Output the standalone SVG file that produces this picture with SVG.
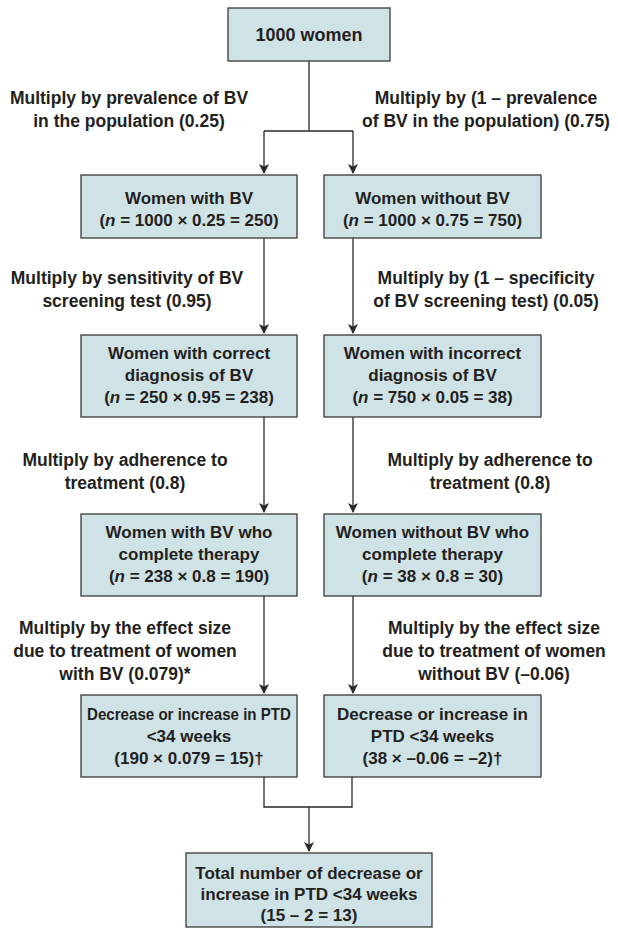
<svg xmlns="http://www.w3.org/2000/svg" width="618" height="928" viewBox="0 0 618 928">
<style>
.box{fill:#cfe2e5;stroke:#3a3a3a;stroke-width:1.3}
.t{font-family:"Liberation Sans",Arial,sans-serif;font-weight:bold;font-size:17px;fill:#231f20;text-anchor:middle}
.lbl{font-family:"Liberation Sans",Arial,sans-serif;font-weight:bold;font-size:17.5px;fill:#231f20;text-anchor:middle}
.ln{fill:none;stroke:#2a2a2a;stroke-width:1.3}
</style>
<defs>
<marker id="arr" markerWidth="10" markerHeight="12" refX="9" refY="5" orient="auto" markerUnits="userSpaceOnUse">
<path d="M0,0 L10,5 L0,10 L2.5,5 z" fill="#2a2a2a"/>
</marker>
</defs>
<rect width="618" height="928" fill="#ffffff"/>

<g id="connectors">
<path class="ln" d="M309,61 V131 M264,131 H353"/>
<path class="ln" d="M264,131 V173" marker-end="url(#arr)"/>
<path class="ln" d="M353,131 V173" marker-end="url(#arr)"/>
<path class="ln" d="M264,238 V333" marker-end="url(#arr)"/>
<path class="ln" d="M353,238 V333" marker-end="url(#arr)"/>
<path class="ln" d="M264,417 V512" marker-end="url(#arr)"/>
<path class="ln" d="M353,417 V512" marker-end="url(#arr)"/>
<path class="ln" d="M264,596 V693" marker-end="url(#arr)"/>
<path class="ln" d="M353,596 V693" marker-end="url(#arr)"/>
<path class="ln" d="M264,777 V807 H352 V777"/>
<path class="ln" d="M309,807 V851" marker-end="url(#arr)"/>
</g>

<g id="labels">
<text class="lbl" x="129" y="104">Multiply by prevalence of BV</text>
<text class="lbl" x="129" y="127">in the population (0.25)</text>
<text class="lbl" x="486" y="104">Multiply by (1 – prevalence</text>
<text class="lbl" x="486" y="127">of BV in the population) (0.75)</text>

<text class="lbl" x="127" y="284">Multiply by sensitivity of BV</text>
<text class="lbl" x="127" y="307">screening test (0.95)</text>
<text class="lbl" x="486" y="284">Multiply by (1 – specificity</text>
<text class="lbl" x="486" y="307">of BV screening test) (0.05)</text>

<text class="lbl" x="125" y="466">Multiply by adherence to</text>
<text class="lbl" x="125" y="489">treatment (0.8)</text>
<text class="lbl" x="490" y="466">Multiply by adherence to</text>
<text class="lbl" x="490" y="489">treatment (0.8)</text>

<text class="lbl" x="125" y="634">Multiply by the effect size</text>
<text class="lbl" x="125" y="657">due to treatment of women</text>
<text class="lbl" x="125" y="680">with BV (0.079)*</text>
<text class="lbl" x="494" y="634">Multiply by the effect size</text>
<text class="lbl" x="494" y="657">due to treatment of women</text>
<text class="lbl" x="494" y="680">without BV (–0.06)</text>
</g>

<g id="n-top">
<rect class="box" x="228" y="8" width="162" height="53"/>
<text class="t" x="309" y="41" style="font-size:18px">1000 women</text>
</g>

<g id="n-withbv">
<rect class="box" x="81" y="175" width="216" height="63"/>
<text class="t" x="189" y="204">Women with BV</text>
<text class="t" x="189" y="226">(<tspan font-style="italic">n</tspan> = 1000 × 0.25 = 250)</text>
</g>
<g id="n-withoutbv">
<rect class="box" x="324" y="175" width="217" height="63"/>
<text class="t" x="432.5" y="204">Women without BV</text>
<text class="t" x="432.5" y="226">(<tspan font-style="italic">n</tspan> = 1000 × 0.75 = 750)</text>
</g>

<g id="n-correct">
<rect class="box" x="81" y="335" width="216" height="82"/>
<text class="t" x="189" y="359">Women with correct</text>
<text class="t" x="189" y="381">diagnosis of BV</text>
<text class="t" x="189" y="403">(<tspan font-style="italic">n</tspan> = 250 × 0.95 = 238)</text>
</g>
<g id="n-incorrect">
<rect class="box" x="324" y="335" width="217" height="82"/>
<text class="t" x="432.5" y="359">Women with incorrect</text>
<text class="t" x="432.5" y="381">diagnosis of BV</text>
<text class="t" x="432.5" y="403">(<tspan font-style="italic">n</tspan> = 750 × 0.05 = 38)</text>
</g>

<g id="n-complete-bv">
<rect class="box" x="81" y="514" width="216" height="82"/>
<text class="t" x="189" y="538">Women with BV who</text>
<text class="t" x="189" y="560">complete therapy</text>
<text class="t" x="189" y="582">(<tspan font-style="italic">n</tspan> = 238 × 0.8 = 190)</text>
</g>
<g id="n-complete-nobv">
<rect class="box" x="324" y="514" width="217" height="82"/>
<text class="t" x="432.5" y="538">Women without BV who</text>
<text class="t" x="432.5" y="560">complete therapy</text>
<text class="t" x="432.5" y="582">(<tspan font-style="italic">n</tspan> = 38 × 0.8 = 30)</text>
</g>

<g id="n-ptd-bv">
<rect class="box" x="81" y="695" width="216" height="82"/>
<text class="t" x="189" y="720" textLength="204" lengthAdjust="spacingAndGlyphs">Decrease or increase in PTD</text>
<text class="t" x="189" y="742">&lt;34 weeks</text>
<text class="t" x="189" y="764">(190 × 0.079 = 15)†</text>
</g>
<g id="n-ptd-nobv">
<rect class="box" x="324" y="695" width="217" height="82"/>
<text class="t" x="432.5" y="720">Decrease or increase in</text>
<text class="t" x="432.5" y="742">PTD &lt;34 weeks</text>
<text class="t" x="432.5" y="764">(38 × –0.06 = –2)†</text>
</g>

<g id="n-total">
<rect class="box" x="186" y="853" width="246" height="74"/>
<text class="t" x="309" y="879">Total number of decrease or</text>
<text class="t" x="309" y="900">increase in PTD &lt;34 weeks</text>
<text class="t" x="309" y="921">(15 – 2 = 13)</text>
</g>
</svg>
